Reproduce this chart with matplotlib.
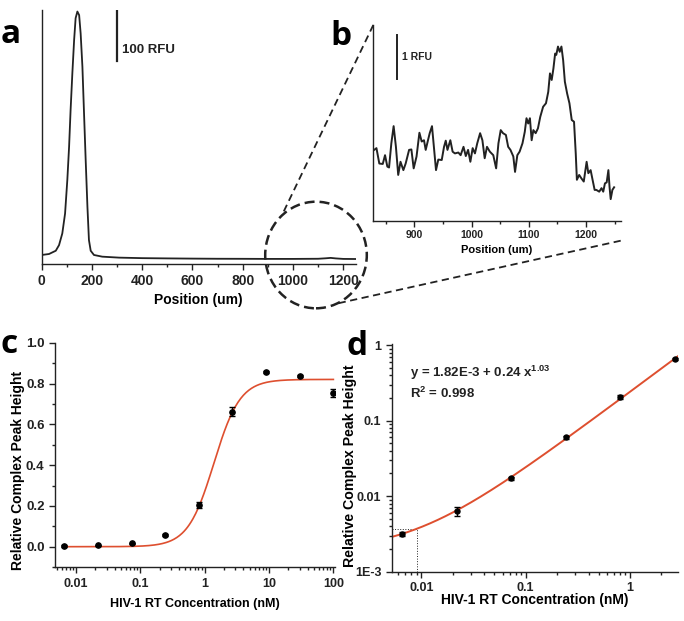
import matplotlib
matplotlib.use('Agg')
import numpy as np
import matplotlib.pyplot as plt
from matplotlib.lines import Line2D
from matplotlib.patches import Ellipse
from matplotlib.ticker import MultipleLocator, LogLocator, NullFormatter

plt.rcParams['font.family'] = ['Liberation Sans', 'DejaVu Sans']
plt.rcParams['font.weight'] = 'bold'
plt.rcParams['axes.labelweight'] = 'bold'
plt.rcParams['mathtext.fontset'] = 'custom'
plt.rcParams['mathtext.rm'] = 'Liberation Sans:bold'
plt.rcParams['mathtext.default'] = 'rm'

# ---- panel a: full electropherogram (position um, RFU)
pos_a = [0, 29, 56, 69, 82, 93, 102, 109, 115, 122, 129, 135, 142, 149, 155, 162,
         168, 175, 182, 188, 195, 208, 241, 308, 400, 500, 600, 700, 800, 900,
         1000, 1100, 1130, 1150, 1170, 1200, 1250]
rfu_a = [16.7, 18.6, 25, 36, 59, 98, 164, 229, 301, 373, 438, 481, 494, 487, 451, 386,
         301, 203, 111, 46, 25, 16.7, 13.4, 11.5, 10.5, 10, 9.6, 9.3, 9.2, 9.0,
         9.0, 9.3, 10.2, 11, 10, 9, 8.8]

# ---- panel b: zoom of the complex peak region
pos_b = [830, 834, 839, 845, 849, 853, 856, 860, 864, 868, 872, 876, 881, 885, 891, 895,
         899, 904, 909, 913, 917, 920, 924, 927, 931, 938, 942, 948, 952, 955, 958, 963,
         967, 971, 977, 981, 986, 990, 994, 998, 1002, 1006, 1010, 1015, 1019, 1023, 1027,
         1032, 1038, 1043, 1047, 1051, 1055, 1060, 1064, 1068, 1073, 1076, 1080, 1084,
         1089, 1093, 1096, 1099, 1102, 1105, 1108, 1112, 1116, 1120, 1125, 1130, 1134,
         1137, 1140, 1143, 1146, 1148, 1151, 1154, 1157, 1160, 1163, 1167, 1171, 1175,
         1179, 1182, 1184, 1188, 1192, 1196, 1201, 1204, 1208, 1212, 1215, 1218, 1223,
         1227, 1230, 1233, 1236, 1239, 1241, 1243, 1246, 1249]
rfu_b = [1.61, 1.65, 1.30, 1.29, 1.49, 1.23, 1.21, 1.76, 2.15, 1.68, 1.04, 1.34, 1.15, 1.30,
         1.61, 1.62, 1.19, 1.46, 2.00, 1.80, 1.83, 1.61, 1.83, 1.99, 2.15, 1.15, 1.39, 1.38,
         1.68, 1.82, 1.61, 1.83, 1.57, 1.53, 1.55, 1.49, 1.68, 1.47, 1.61, 1.34, 1.65, 1.53,
         1.76, 1.99, 1.83, 1.42, 1.68, 1.57, 1.49, 1.19, 1.76, 2.06, 1.99, 1.95, 1.68, 1.61,
         1.46, 1.11, 1.49, 1.57, 1.76, 2.02, 2.33, 2.21, 2.33, 1.83, 2.06, 1.99, 2.10, 2.36,
         2.59, 2.67, 2.93, 3.35, 3.20, 3.46, 3.80, 3.77, 3.96, 3.84, 3.96, 3.65, 3.16, 2.89,
         2.67, 2.29, 2.25, 1.53, 0.93, 1.04, 0.96, 0.89, 1.34, 1.08, 1.15, 0.89, 0.70, 0.70,
         0.66, 0.74, 0.66, 0.85, 0.87, 1.15, 0.77, 0.49, 0.70, 0.76]

# ---- panel c: dose response
conc = [0.00656, 0.0219, 0.0729, 0.243, 0.81, 2.7, 9, 30, 100]
height_c = [0.003, 0.006, 0.016, 0.057, 0.205, 0.662, 0.857, 0.836, 0.755]
err_c = [0.003, 0.003, 0.004, 0.004, 0.016, 0.022, 0.005, 0.006, 0.02]
hill_top, hill_k, hill_n = 0.82, 1.39, 2.14

# ---- panel d: low range, log-log
conc_d = [0.00656, 0.0219, 0.0729, 0.243, 0.81, 2.7]
height_d = [0.0032, 0.0064, 0.0173, 0.060, 0.205, 0.66]
err_d = [0.0002, 0.0009, 0.0008, 0.002, 0.012, 0.02]
fit_c0, fit_c1, fit_p = 1.82e-3, 0.24, 1.03
lod_x, lod_y = 0.009, 0.0037

W, H = 684, 621
ink = '#222222'
red = '#de4f2f'

fig = plt.figure(figsize=(W / 100, H / 100), dpi=100)


def rect(l, t, r, b):
    return [l / W, 1 - b / H, (r - l) / W, (b - t) / H]


def fpt(x, y):
    return x / W, 1 - y / H


def style(ax):
    for s in ['top', 'right']:
        ax.spines[s].set_visible(False)
    for s in ['left', 'bottom']:
        ax.spines[s].set_linewidth(1.0)
        ax.spines[s].set_color(ink)
    ax.tick_params(which='both', direction='out', colors=ink, width=1.0)
    ax.tick_params(which='major', length=4)
    ax.tick_params(which='minor', length=2.5)


# panel a
ax_a = fig.add_axes(rect(41.7, 10, 355.8, 263.5))
style(ax_a)
ax_a.plot(pos_a, rfu_a, color=ink, lw=1.3)
ax_a.set_xlim(0, 1250)
ax_a.set_ylim(0, 497)
ax_a.set_xticks(range(0, 1201, 200))
ax_a.xaxis.set_minor_locator(MultipleLocator(100))
ax_a.set_yticks([])
ax_a.tick_params(axis='x', labelsize=10)
ax_a.set_xlabel('Position (um)', fontsize=10, labelpad=4)
ax_a.plot([300, 300], [397, 497], color=ink, lw=1.6)
ax_a.text(318, 418, '100 RFU', fontsize=9.5, va='center', color=ink)

# panel b
ax_b = fig.add_axes(rect(373.3, 25, 620.7, 220.7))
style(ax_b)
ax_b.plot(pos_b, rfu_b, color=ink, lw=1.4)
ax_b.set_xlim(828.5, 1260.5)
ax_b.set_ylim(0, 4.45)
ax_b.set_xticks([900, 1000, 1100, 1200])
ax_b.xaxis.set_minor_locator(MultipleLocator(50))
ax_b.set_yticks([])
ax_b.tick_params(axis='x', labelsize=7.5, pad=3)
ax_b.set_xlabel('Position (um)', fontsize=8, labelpad=3)
ax_b.plot([870, 870], [3.22, 4.22], color=ink, lw=1.4)
ax_b.text(878, 3.72, '1 RFU', fontsize=7.5, va='center', color=ink)

# panel c
ax_c = fig.add_axes(rect(55, 342.7, 335, 567.1))
style(ax_c)
xc = np.logspace(np.log10(conc[0]), np.log10(conc[-1]), 300)
ax_c.plot(xc, hill_top * xc ** hill_n / (hill_k ** hill_n + xc ** hill_n), color=red, lw=1.2, zorder=2)
ax_c.errorbar(conc, height_c, yerr=err_c, fmt='o', color='black', ms=3.8,
              capsize=2.5, elinewidth=1, capthick=1, zorder=3)
ax_c.set_xscale('log')
ax_c.set_xlim(0.0047, 106)
ax_c.set_ylim(-0.1, 1.0)
ax_c.set_xticks([0.01, 0.1, 1, 10, 100])
ax_c.set_xticklabels(['0.01', '0.1', '1', '10', '100'])
ax_c.xaxis.set_minor_locator(LogLocator(base=10, subs=np.arange(2, 10)))
ax_c.xaxis.set_minor_formatter(NullFormatter())
ax_c.set_yticks([0.0, 0.2, 0.4, 0.6, 0.8, 1.0])
ax_c.set_yticklabels(['0.0', '0.2', '0.4', '0.6', '0.8', '1.0'])
ax_c.yaxis.set_minor_locator(MultipleLocator(0.1))
ax_c.tick_params(axis='x', labelsize=9)
ax_c.tick_params(axis='y', labelsize=9.5)
ax_c.set_xlabel('HIV-1 RT Concentration (nM)', fontsize=9, labelpad=6)
ax_c.set_ylabel('Relative Complex Peak Height', fontsize=10)
ax_c.yaxis.set_label_coords(-0.107, 0.43)

# panel d
ax_d = fig.add_axes(rect(391.7, 343.6, 678.3, 571.7))
style(ax_d)
xd = np.logspace(np.log10(0.0052), np.log10(2.9), 300)
ax_d.plot(xd, fit_c0 + fit_c1 * xd ** fit_p, color=red, lw=1.4, zorder=2)
ax_d.errorbar(conc_d, height_d, yerr=err_d, fmt='o', color='black', ms=3.6,
              capsize=2.5, elinewidth=1, capthick=1, zorder=3)
ax_d.plot([0.0052, lod_x, lod_x], [lod_y, lod_y, 1e-3], color=ink, lw=0.7, ls=':', zorder=1)
ax_d.set_xscale('log')
ax_d.set_yscale('log')
ax_d.set_xlim(0.0052, 2.9)
ax_d.set_ylim(1e-3, 1.05)
ax_d.set_xticks([0.01, 0.1, 1])
ax_d.set_xticklabels(['0.01', '0.1', '1'])
ax_d.set_yticks([1e-3, 0.01, 0.1, 1])
ax_d.set_yticklabels(['1E-3', '0.01', '0.1', '1'])
for axis in [ax_d.xaxis, ax_d.yaxis]:
    axis.set_minor_locator(LogLocator(base=10, subs=np.arange(2, 10)))
    axis.set_minor_formatter(NullFormatter())
ax_d.tick_params(axis='both', labelsize=9)
ax_d.set_xlabel('HIV-1 RT Concentration (nM)', fontsize=10, labelpad=-1)
ax_d.set_ylabel('Relative Complex Peak Height', fontsize=10.2)
ax_d.yaxis.set_label_coords(-0.122, 0.465)
ax_d.text(0.064, 0.854, 'y = 1.82E-3 + 0.24 x$^{1.03}$', transform=ax_d.transAxes,
          fontsize=9.5, color=ink)
ax_d.text(0.064, 0.76, 'R$^{2}$ = 0.998', transform=ax_d.transAxes, fontsize=9.5, color=ink)

# zoom indication between a and b
fig.add_artist(Ellipse(fpt(316, 255), 2 * 50.8 / W, 2 * 53.3 / H, transform=fig.transFigure,
                       fill=False, edgecolor=ink, lw=1.8, ls=(0, (4, 2))))
fig.add_artist(Line2D(*zip(fpt(373.3, 25), fpt(283, 213)), transform=fig.transFigure,
                      color=ink, lw=1.3, ls=(0, (4, 2.5))))
fig.add_artist(Line2D(*zip(fpt(620.7, 240.7), fpt(335, 304)), transform=fig.transFigure,
                      color=ink, lw=1.3, ls=(0, (4, 2.5))))

# panel letters
for letter, (x, y) in zip('abcd', [(1, 43), (330, 45), (1, 353), (346, 355)]):
    fig.text(*fpt(x, y), letter, fontsize=24, fontweight='bold', family='Open Sans',
             va='baseline', ha='left', color='black')

fig.savefig('out.png', dpi=100)
